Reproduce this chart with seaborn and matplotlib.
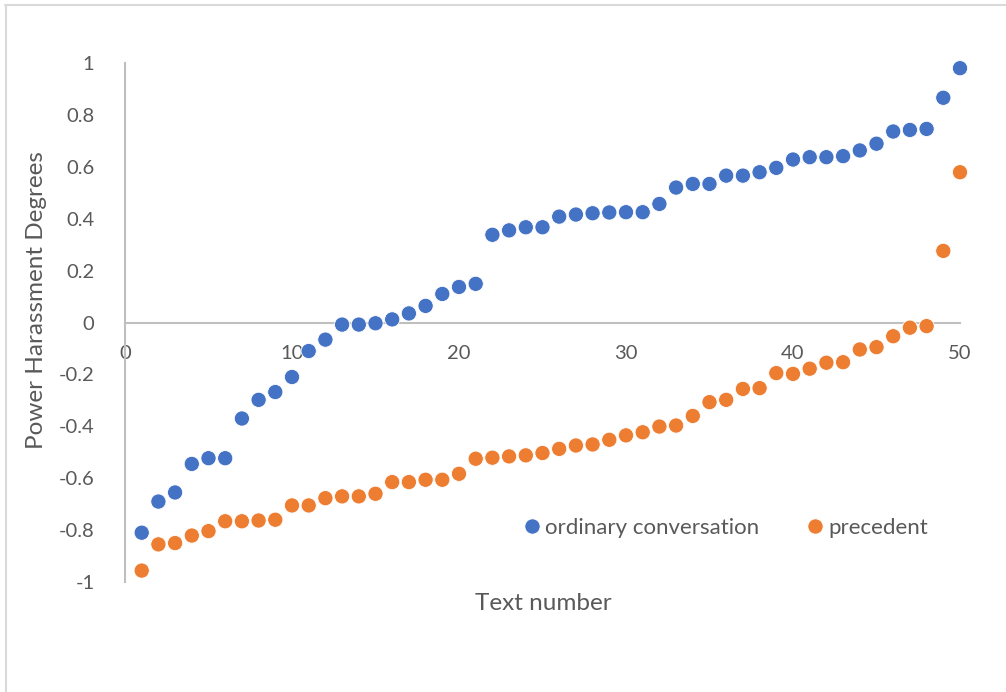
import matplotlib
matplotlib.use("Agg")
import matplotlib.pyplot as plt
import seaborn as sns
import pandas as pd
from matplotlib.lines import Line2D

# Text numbers 1..50
text_number = list(range(1, 51))

# Power harassment degree per text, sorted ascending within each series
ordinary_conversation = [
    -0.81, -0.69, -0.655, -0.545, -0.523, -0.523, -0.37, -0.298, -0.268, -0.21,
    -0.11, -0.066, -0.008, -0.008, -0.003, 0.012, 0.035, 0.064, 0.11, 0.137,
    0.149, 0.338, 0.355, 0.367, 0.367, 0.408, 0.416, 0.421, 0.424, 0.425,
    0.425, 0.457, 0.52, 0.534, 0.534, 0.566, 0.566, 0.579, 0.596, 0.628,
    0.637, 0.637, 0.641, 0.663, 0.689, 0.736, 0.742, 0.746, 0.866, 0.98,
]
precedent = [
    -0.956, -0.855, -0.85, -0.821, -0.804, -0.766, -0.766, -0.763, -0.76, -0.705,
    -0.705, -0.677, -0.67, -0.67, -0.66, -0.615, -0.615, -0.606, -0.606, -0.583,
    -0.525, -0.521, -0.516, -0.512, -0.503, -0.487, -0.474, -0.47, -0.452, -0.435,
    -0.423, -0.401, -0.397, -0.36, -0.307, -0.298, -0.256, -0.253, -0.195, -0.198,
    -0.178, -0.155, -0.153, -0.104, -0.095, -0.053, -0.02, -0.014, 0.276, 0.579,
]

series_names = ["ordinary conversation", "precedent"]
series_colors = ["#4472C4", "#ED7D31"]

x_ticks = [0, 10, 20, 30, 40, 50]
y_ticks = [1, 0.8, 0.6, 0.4, 0.2, 0, -0.2, -0.4, -0.6, -0.8, -1]

df = pd.concat([
    pd.DataFrame({"Text number": text_number, "degree": ordinary_conversation,
                  "series": series_names[0]}),
    pd.DataFrame({"Text number": text_number, "degree": precedent,
                  "series": series_names[1]}),
])

sns.set_theme(style="white")
plt.rcParams["font.family"] = ["Lato", "DejaVu Sans"]

fig = plt.figure(figsize=(10.06, 6.92), dpi=100)
ax = fig.add_axes([125 / 1006, 1 - 582 / 692, (960 - 125) / 1006, (582 - 63) / 692])

sns.scatterplot(
    data=df, x="Text number", y="degree", hue="series",
    hue_order=series_names, palette=series_colors,
    s=120, edgecolor="white", linewidth=0.6, ax=ax, legend=False, zorder=3,
    clip_on=False,
)

ax.set_xlim(0, 50)
ax.set_ylim(-1, 1)
ax.set_xticks(x_ticks)
ax.set_yticks(y_ticks)
ax.set_yticklabels([f"{v:g}" for v in y_ticks])

# axis lines crossing at zero, no box
for side in ("top", "right"):
    ax.spines[side].set_visible(False)
ax.spines["bottom"].set_position(("data", 0))
ax.spines["left"].set_position(("data", 0))
for side in ("bottom", "left"):
    ax.spines[side].set_color("#BFBFBF")
    ax.spines[side].set_linewidth(1.5)
    ax.spines[side].set_zorder(1)

ax.tick_params(axis="both", length=0, labelsize=14.5, labelcolor="#595959")
ax.tick_params(axis="x", pad=16)
ax.tick_params(axis="y", pad=22)
for lbl in ax.get_xticklabels():
    lbl.set_zorder(5)

ax.set_xlabel("")
ax.set_ylabel("")
fig.text(543 / 1006, 1 - 604 / 692, "Text number", ha="center", va="center",
         fontsize=17.5, color="#595959")
fig.text(37 / 1006, 1 - 300 / 692, "Power Harassment Degrees", ha="center",
         va="center", rotation=90, fontsize=17.5, color="#595959")

handles = [
    Line2D([], [], marker="o", linestyle="", markersize=11,
           markerfacecolor=c, markeredgecolor="white", markeredgewidth=0.6)
    for c in series_colors
]
fig.legend(handles, series_names, loc="center", ncol=2,
           bbox_to_anchor=(723 / 1006, 1 - 528 / 692), frameon=False,
           fontsize=16, labelcolor="#595959", handletextpad=0.0,
           columnspacing=1.9, handlelength=1.2)

# chart area border (top and left edges)
fig.add_artist(Line2D([5 / 1006, 1.0], [1 - 5 / 692, 1 - 5 / 692],
                      transform=fig.transFigure, color="#D9D9D9", linewidth=1.5))
fig.add_artist(Line2D([6 / 1006, 6 / 1006], [0.0, 1 - 5 / 692],
                      transform=fig.transFigure, color="#D9D9D9", linewidth=1.5))

fig.savefig("out.png", dpi=100, facecolor="white")
